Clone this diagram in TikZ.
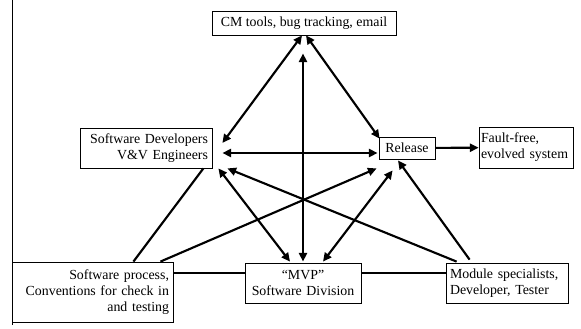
\documentclass[tikz,border=0pt]{standalone}
\usepackage{fontspec}
\setmainfont{Liberation Serif}
\usetikzlibrary{calc,arrows.meta}

\begin{document}
\begin{tikzpicture}[x=0.75pt, y=-0.75pt, >={Triangle[length=6.5pt,width=6pt]},
    box/.style = {draw, line width=0.6pt, font=\fontsize{10.4}{12}\selectfont, inner xsep=3pt, inner ysep=0pt},
    link/.style = {line width=1.6pt}]
    \useasboundingbox (0,0) rectangle (581,328);

    \node[box, minimum width=138pt, minimum height=18pt] (CM) at (304,23) {CM tools, bug tracking, email};
    \node[box, text width=93pt, align=right, minimum height=30pt] (SD) at (146,148) {Software Developers\\V\&V Engineers};
    \node[box, minimum width=42pt, minimum height=16.5pt] (Rel) at (407,148) {Release};
    \node[box, inner xsep=1.5pt, text width=67.5pt, align=left, minimum height=30.75pt] (Fault) at (526,147.5) {Fault-free,\\evolved~system};
    \node[box, text width=114.75pt, align=right, minimum height=45pt] (SP) at (92.5,292) {Software process,\\Conventions for check in\\and testing};
    \node[box, text width=81pt, align=center, minimum height=30pt] (MVP) at (303,283) {``MVP''\\Software Division};
    \node[box, text width=85.5pt, align=left, minimum height=30pt] (Mod) at (507,283) {Module specialists,\\Developer, Tester};

    % page edge
    \coordinate (edgeT) at (12,0);
    \coordinate (edgeB) at (12,325);
    \draw[line width=0.6pt] (edgeT) -- (edgeB);

    % links to the tools
    \draw[link, <->] ($(CM.south)+(-2,0)$) -- ($(SD.east)+(10,-5)$);
    \draw[link, <->] ($(CM.south)+(-1,18)$) -- ($(MVP.north)+(0,-1)$);
    \draw[link, <->] ($(CM.south)+(2,0)$) -- ($(Rel.north west)+(1,2)$);

    % developers and release
    \draw[link, <->] ($(SD.east)+(10,5)$) -- ($(Rel.west)+(-1,5)$);
    \draw[link, <->] ($(SD.south east)+(6,0)$) -- ($(MVP.north)+(-13,-1)$);
    \draw[link, ->] ($(Mod.north west)+(11,-1)$) -- ($(SD.south east)+(15,0)$);
    \draw[link] ($(SP.north east)+(-40,0)$) -- ($(SD.south east)+(-9,0)$);
    \draw[link, ->] ($(SP.north east)+(-13,0)$) -- ($(Rel.south west)+(-2,9)$);
    \draw[link, <->] ($(MVP.north)+(20,-1)$) -- ($(Rel.south west)+(14,11)$);
    \draw[link, ->] ($(Mod.north west)+(24,-3)$) -- ($(Rel.south)+(-9,1)$);

    % bottom row
    \draw[link] ($(SP.east)+(0,-19)$) -- ($(MVP.west)+(0,-10)$);
    \draw[link] ($(MVP.east)+(0,-10)$) -- ($(Mod.west)+(0,-10)$);
    \draw[link, ->] (Rel) -- (Fault);
\end{tikzpicture}
\end{document}
